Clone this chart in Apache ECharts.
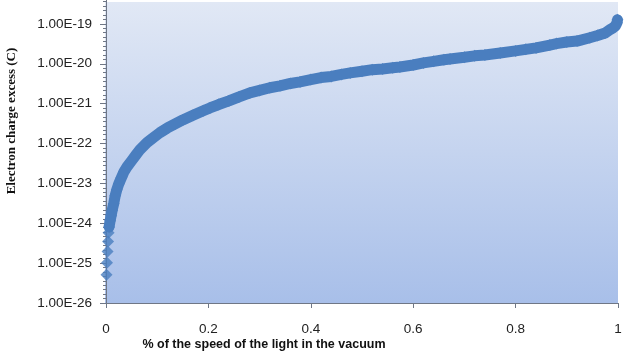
<html>
<head>
<meta charset="UTF-8">
<script src="https://cdn.jsdelivr.net/npm/echarts@6/dist/echarts.min.js"></script>
<style type="text/css">
html,body{margin:0;padding:0;background:#fff;}
#chart{width:627px;height:352px;}
</style>
</head>
<body>
<div id="chart"></div>
<script type="text/javascript">
// % of c (x) and charge excess in C (y)
var speedPct=[0.001,0.002,0.003,0.004,0.005,0.006,0.008,0.010,0.012,0.015,0.018,0.021,0.025,0.030,0.035,0.041,0.05,0.06,0.066,0.08,0.09,0.105,0.12,0.135,0.15,0.17,0.19,0.203,0.22,0.24,0.26,0.281,0.30,0.32,0.34,0.36,0.379,0.40,0.42,0.44,0.46,0.477,0.50,0.52,0.54,0.56,0.574,0.60,0.62,0.64,0.66,0.672,0.70,0.72,0.74,0.77,0.80,0.82,0.84,0.867,0.88,0.90,0.92,0.945,0.96,0.975,0.984,0.99,0.995,0.998,0.999];
var chargeExcess=[5.1e-26,1.02e-25,1.95e-25,3.5e-25,5.8e-25,8.1e-25,1.15e-24,1.55e-24,2.1e-24,3.1e-24,4.9e-24,6.9e-24,9.8e-24,1.38e-23,1.95e-23,2.6e-23,3.7e-23,5.5e-23,6.9e-23,1.05e-22,1.32e-22,1.86e-22,2.45e-22,3.1e-22,3.9e-22,5.1e-22,6.6e-22,7.8e-22,9.5e-22,1.17e-21,1.48e-21,1.86e-21,2.14e-21,2.5e-21,2.8e-21,3.2e-21,3.5e-21,4.0e-21,4.5e-21,4.8e-21,5.4e-21,5.9e-21,6.5e-21,7.1e-21,7.4e-21,7.9e-21,8.3e-21,9.3e-21,1.05e-20,1.15e-20,1.26e-20,1.32e-20,1.45e-20,1.58e-20,1.66e-20,1.86e-20,2.1e-20,2.3e-20,2.5e-20,2.95e-20,3.2e-20,3.5e-20,3.7e-20,4.5e-20,5.1e-20,5.9e-20,7.1e-20,7.9e-20,8.9e-20,1.07e-19,1.26e-19];
var xTicks=[0,0.2,0.4,0.6,0.8,1];
var yExpMin=-26,yExpMax=-18;//decades shown on the log axis (top one is cut off)

// the y axis is a value axis over log10(charge)
var pts=[];
for(var i=0;i<speedPct.length;i++){
	pts.push([speedPct[i],Math.log10(chargeExcess[i])]);
}
var bandPts=pts.slice(5);//continuous part of the band

var dom=document.getElementById("chart");
var myChart=echarts.init(dom);
var axisGray='#6f7786';
var blue='#4a7ebf';
var option={
	animation:false,
	graphic:[
		{type:'rect',z:-10,silent:true,shape:{x:105,y:2,width:513,height:301},
		 style:{fill:new echarts.graphic.LinearGradient(0,0,0,1,[{offset:0,color:'#e1e8f5'},{offset:1,color:'#a8bfe9'}])}},
		{type:'text',x:12,y:121,rotation:Math.PI/2,
		 style:{text:'Electron charge excess (C)',font:'bold 13px "Liberation Serif"',fill:'#111',align:'center',verticalAlign:'middle'}},
		{type:'text',x:264,y:345,
		 style:{text:'% of the speed of the light in the vacuum',font:'bold 12.5px "Liberation Sans"',fill:'#111',align:'center',verticalAlign:'middle'}}
	],
	grid:{left:106,right:9,top:-16,bottom:49,outerBoundsMode:'none'},
	xAxis:{
		type:'value',min:xTicks[0],max:xTicks[xTicks.length-1],interval:0.2,
		axisLine:{show:true,lineStyle:{color:axisGray,width:1}},
		axisTick:{show:true,inside:false,length:5,lineStyle:{color:axisGray,width:1}},
		splitLine:{show:false},
		axisLabel:{fontSize:13.5,color:'#222',margin:19,fontFamily:'Liberation Sans'}
	},
	yAxis:{
		type:'value',min:yExpMin,max:yExpMax,interval:1,
		axisLine:{show:true,lineStyle:{color:axisGray,width:1}},
		axisTick:{show:true,inside:false,length:6,lineStyle:{color:axisGray,width:1}},
		minorTick:{show:true,splitNumber:9,length:3,lineStyle:{color:axisGray,width:1}},
		splitLine:{show:false},
		axisLabel:{fontSize:13.5,color:'#222',margin:14,fontFamily:'Liberation Sans',
			formatter:function(v){
				if(v>-19)return '';
				return '1.00E'+v;
			}}
	},
	series:[
		{type:'line',data:bandPts,showSymbol:false,lineStyle:{color:blue,width:11,cap:'round',join:'round'},itemStyle:{color:blue},clip:false},
		{type:'scatter',data:pts,symbol:'diamond',symbolSize:12,itemStyle:{color:blue},clip:false}
	]
};
myChart.setOption(option);
</script>
</body>
</html>
